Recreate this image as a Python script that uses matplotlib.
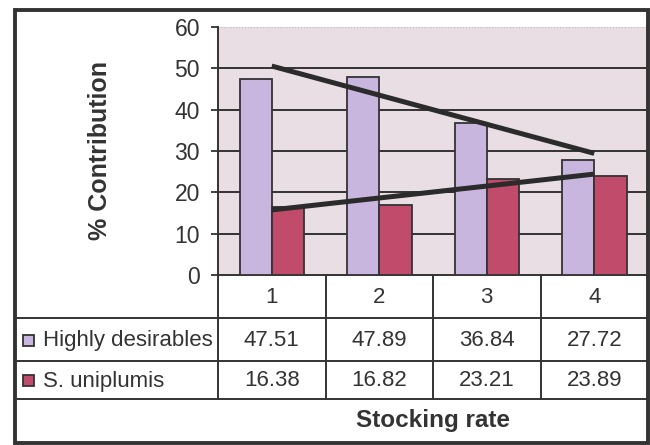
import numpy as np
import matplotlib
matplotlib.use("Agg")
import matplotlib.pyplot as plt
from matplotlib.transforms import blended_transform_factory
from matplotlib.patches import Rectangle

plt.rcParams['font.family'] = ['Liberation Sans', 'DejaVu Sans']

# Data
categories = ["1", "2", "3", "4"]
series_names = ["Highly desirables", "S. uniplumis"]
highly_desirables = [47.51, 47.89, 36.84, 27.72]
s_uniplumis = [16.38, 16.82, 23.21, 23.89]
y_ticks = [0, 10, 20, 30, 40, 50, 60]

colors = ["#c9b6df", "#c04b6b"]
ink = "#333333"

W, H = 650, 445
fig = plt.figure(figsize=(W / 100, H / 100), dpi=100)
fig.patch.set_facecolor("white")

# Plot area in pixel layout
px_l, px_r, px_t, px_b = 218, 648, 27, 275
ax = fig.add_axes([px_l / W, 1 - px_b / H, (px_r - px_l) / W, (px_b - px_t) / H])
ax.set_facecolor("#e8dee4")

x = np.arange(1, len(categories) + 1)
bw = 0.30
series = [highly_desirables, s_uniplumis]
for i, vals in enumerate(series):
    ax.bar(x + (i - 0.5) * bw, vals, width=bw, color=colors[i],
           edgecolor=ink, linewidth=1.3, zorder=3)

# Linear trendlines
for vals in series:
    k, b = np.polyfit(x, vals, 1)
    ax.plot(x, k * x + b, color="#2b2b2b", linewidth=3.6,
            solid_capstyle="butt", zorder=4)

ax.set_xlim(0.5, len(categories) + 0.5)
ax.set_ylim(0, 60)
ax.set_yticks(y_ticks)
ax.set_yticklabels([str(t) for t in y_ticks], fontsize=16.5, color=ink)
ax.set_xticks([])
for t in y_ticks[1:-1]:
    ax.axhline(t, color=ink, linewidth=1.4, zorder=1)
ax.axhline(60, color="#bbbbbb", linewidth=0.8, linestyle=":", zorder=1)
ax.tick_params(axis="y", length=5, width=1.3, color=ink, pad=8)
for s in ["top", "right"]:
    ax.spines[s].set_visible(False)
ax.spines["left"].set_color(ink)
ax.spines["left"].set_linewidth(1.4)
ax.spines["bottom"].set_color(ink)
ax.spines["bottom"].set_linewidth(1.4)

# Overlay for the data table, labels and outer frame (pixel coordinates)
ov = fig.add_axes([0, 0, 1, 1], facecolor="none")
ov.set_xlim(0, W)
ov.set_ylim(H, 0)
ov.axis("off")
bt = blended_transform_factory(ax.transData, ov.transData)

ov.text(100, 151, "% Contribution", rotation=90, ha="center", va="center",
        fontsize=18, fontweight="bold", color=ink)

row_head, row_1, row_2 = 275, 318, 361
row_end = 399
left_x = 16

# Row lines
for y in (row_1, row_2, row_end):
    ov.plot([left_x, px_r], [y, y], color=ink, linewidth=1.4)
# Column separators
ov.plot([px_l, px_l], [row_head, row_end], color=ink, linewidth=1.4)
for xb in np.arange(1.5, len(categories), 1.0):
    ov.plot([xb, xb], [row_head, row_end], color=ink, linewidth=1.4,
            transform=bt)

# Category labels and values
for j, c in enumerate(categories):
    ov.text(x[j], (row_head + row_1) / 2 + 1, c, transform=bt,
            ha="center", va="center", fontsize=16, color=ink)
    for r, vals in enumerate(series):
        yc = (row_1 + row_2) / 2 if r == 0 else (row_2 + row_end) / 2
        ov.text(x[j], yc + 1, f"{vals[j]:.2f}", transform=bt,
                ha="center", va="center", fontsize=16, color=ink)

# Legend keys in the table
for r, name in enumerate(series_names):
    yc = (row_1 + row_2) / 2 if r == 0 else (row_2 + row_end) / 2
    ov.add_patch(Rectangle((23, yc - 5), 11, 11, facecolor=colors[r],
                           edgecolor=ink, linewidth=1.3))
    ov.text(43, yc + 1, name, ha="left", va="center", fontsize=16, color=ink)

ov.text((px_l + px_r) / 2, 421, "Stocking rate", ha="center", va="center",
        fontsize=17.5, fontweight="bold", color=ink)

# Outer frame
ov.add_patch(Rectangle((14.5, 9.5), 633.5, 433, facecolor="none",
                       edgecolor=ink, linewidth=2.8))

fig.savefig("out.png", dpi=100, facecolor="white")
